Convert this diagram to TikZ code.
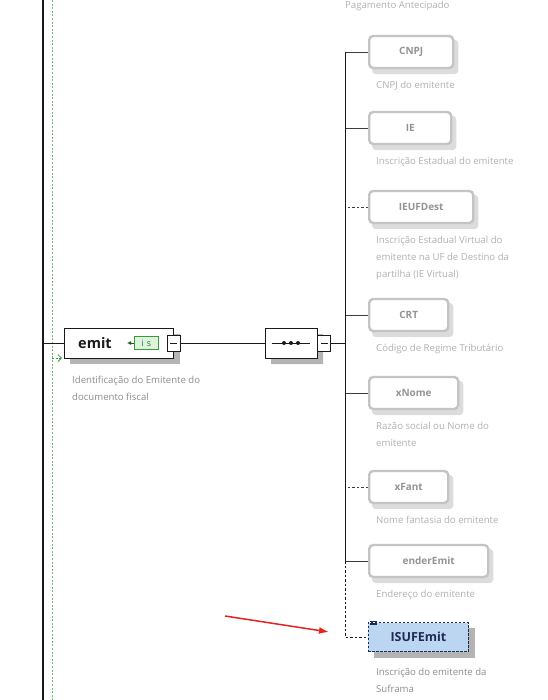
\documentclass[tikz,border=0pt]{standalone}
\usepackage{fontspec}
\setmainfont{Open Sans}
\usetikzlibrary{positioning,calc,arrows.meta,shapes.misc,backgrounds}
\definecolor{xsdlinha}{HTML}{1A1A1A}
\definecolor{xsdverde}{HTML}{3A9A3A}
\definecolor{xsdfundoverde}{HTML}{DDF3DD}
\definecolor{xsdtexto}{HTML}{8C8C8C}
\definecolor{xsdapagado}{HTML}{C4C4C4}
\definecolor{xsdazul}{HTML}{BCD5F1}
\definecolor{xsdmarinho}{HTML}{1E2B55}
\definecolor{xsdsombra}{HTML}{B4B4B4}
\definecolor{setavermelha}{HTML}{E3241E}
\tikzset{
  fio/.style={draw=xsdlinha,line width=0.9pt},
  fiotracejado/.style={draw=xsdlinha,line width=0.9pt,dash pattern=on 2.5pt off 2pt},
  elem/.style={draw=xsdlinha,line width=0.9pt,fill=white,inner sep=0pt},
  sequencia/.style={chamfered rectangle,chamfered rectangle xsep=7pt,chamfered rectangle ysep=0pt,
    minimum width=52pt,minimum height=30pt,inner sep=0pt},
  menos/.style={draw=xsdlinha,line width=0.8pt,fill=white,minimum width=13pt,minimum height=16pt,inner sep=0pt,
    path picture={\draw[xsdlinha,line width=0.8pt] ([xshift=3pt]path picture bounding box.west) -- ([xshift=-3pt]path picture bounding box.east);}},
  apagado/.style={draw=xsdapagado,line width=2.4pt,rounded corners=4pt,fill=white,text=xsdapagado!75!black,
    font=\bfseries\fontsize{10}{12}\selectfont,minimum height=32pt,inner sep=0pt,anchor=west},
  desc/.style={text=xsdtexto,font=\fontsize{9.6}{17}\selectfont,align=left,anchor=north west,inner sep=0pt},
  descapagada/.style={desc,text=xsdapagado!90!black},
}
\begin{document}
\begin{tikzpicture}[x=1pt,y=-1pt]
  \clip (0,0) rectangle (547,700);
  % linhas da esquerda
  \draw[xsdlinha,line width=1.2pt] (43,0) -- (43,700);
  \draw[xsdverde!70,line width=0.8pt,dash pattern=on 2pt off 1.6pt] (52,0) -- (52,700);
  % elemento emit
  \node[elem,minimum width=109pt,minimum height=30pt,anchor=west] (emit) at (64,343) {};
  \node[anchor=west,inner sep=0pt,font=\bfseries\fontsize{14.5}{16}\selectfont,text=xsdlinha] (emitnome) at (78,343) {emit};
  \node[draw=xsdverde,fill=xsdfundoverde,line width=0.7pt,inner sep=0.8pt,minimum width=24pt,minimum height=13pt,
    font=\fontsize{9}{10}\selectfont,text=xsdverde!80!black,anchor=west] (emitinfo) at (134,343) {i\,\,s};
  \draw[xsdverde!60!black,line width=0.9pt,-{Latex[length=4pt,width=4pt]}] (emitinfo.west) -- ++(-7,0);
  \node[menos] (emitmenos) at (emit.east) {};
  \node[desc] (emitdesc) at (72,376) {Identificação do Emitente do\\documento fiscal};
  \coordinate (raiz) at (43,343);
  \coordinate (verdeini) at (52,358);
  \draw[fio] (raiz) -- (emit.west);
  \draw[xsdverde,line width=0.8pt,dash pattern=on 2pt off 1.5pt,-{Straight Barb[length=3.5pt,width=7pt]}] (verdeini) -- ++(10,0);
  % sequencia
  \node[elem,sequencia] (seq) at (291,343) {};
  \draw[xsdlinha,line width=0.9pt] ([xshift=7pt]seq.west) -- ([xshift=-7pt]seq.east);
  \foreach \dx in {-7,0,7} \fill[xsdlinha] ([xshift=\dx pt]seq.center) circle (2pt);
  \node[menos,anchor=west] (seqmenos) at (seq.east) {};
  \draw[fio] (emitmenos) -- (seq);
  \coordinate (barramento) at (345,343);
  \draw[fio] (seqmenos) -- (barramento);
  % texto no topo
  \node[descapagada] (topodesc) at (345,1) {Pagamento Antecipado};
  % filhos (apagados)
  \foreach \n/\t/\y/\w/\c/\d in {
      cnpj/CNPJ/52/84/fio/{CNPJ do emitente},
      ie/IE/128/82/fio/{Inscrição Estadual do emitente},
      ieufdest/IEUFDest/207/104/fiotracejado/{Inscrição Estadual Virtual do\\emitente na UF de Destino da\\partilha (IE Virtual)},
      crt/CRT/315/79/fio/{Código de Regime Tributário},
      xnome/xNome/393/89/fio/{Razão social ou Nome do\\emitente},
      xfant/xFant/487/79/fiotracejado/{Nome fantasia do emitente},
      ender/enderEmit/561/119/fio/{Endereço do emitente}} {
    \node[apagado,minimum width=\w pt] (\n) at (368,\y) {\t};
    \node[descapagada] (\n desc) at ([xshift=8pt,yshift=-12pt]\n.south west) {\d};
    \draw[\c,xsdlinha!85] (\n.west) -- (\n.west -| barramento);
  }
  \draw[fio] (cnpj.west -| barramento) -- (ender.west -| barramento);
  % ISUFEmit
  \node[draw=xsdmarinho,fill=xsdazul,line width=0.9pt,dash pattern=on 2.5pt off 1.5pt,
    minimum width=100pt,minimum height=29pt,inner sep=0pt,anchor=west,
    font=\bfseries\fontsize{12.5}{14}\selectfont,text=xsdmarinho] (isuf) at (368,637) {ISUFEmit};
  \foreach \k in {0,1.8,3.6} \draw[xsdmarinho,line width=0.7pt] ([xshift=2pt,yshift=1pt-\k pt]isuf.north west) -- ++(7,0);
  \node[desc] (isufdesc) at ([xshift=8pt,yshift=-16pt]isuf.south west) {Inscrição do emitente da\\Suframa};
  \draw[fiotracejado] (ender.west -| barramento) -- (isuf.west -| barramento) -- (isuf.west);
  % sombras
  \begin{scope}[on background layer]
    \foreach \n in {emit,isuf}
      \fill[xsdsombra] ([shift={(6,6)}]\n.north west) rectangle ([shift={(6,6)}]\n.south east);
    \foreach \n in {cnpj,ie,ieufdest,crt,xnome,xfant,ender}
      \fill[xsdapagado!60,rounded corners=4pt] ([shift={(4,5)}]\n.north west) rectangle ([shift={(4,5)}]\n.south east);
    \node[sequencia,fill=xsdsombra] (seqsombra) at ([shift={(6,6)}]seq.center) {};
  \end{scope}
  % seta vermelha
  \coordinate (setaini) at (225,616);
  \coordinate (setafim) at (329,632);
  \draw[setavermelha,line width=1.5pt,-{Latex[length=10pt,width=7pt]}] (setaini) -- (setafim);
\end{tikzpicture}
\end{document}
